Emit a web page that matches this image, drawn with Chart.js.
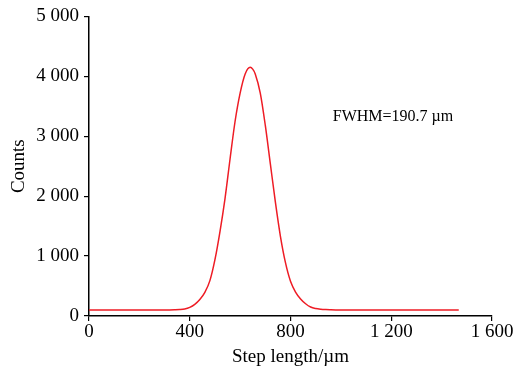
<!DOCTYPE html>
<html>
<head>
<meta charset="utf-8">
<script src="https://cdn.jsdelivr.net/npm/chart.js@4/dist/chart.umd.min.js"></script>
<style>
html,body{margin:0;padding:0;background:#fff;}
#wrap{width:515px;height:368px;position:relative;}
</style>
</head>
<body>
<div id="wrap"><canvas id="c" width="515" height="368"></canvas></div>
<script>
// Step length (µm)
const stepLength = [0, 100, 200, 300, 320, 340, 360, 380, 400, 420, 440, 460, 480, 500, 520, 540, 560, 580, 600, 620, 640, 650, 660, 680, 700, 720, 740, 760, 780, 800, 820, 840, 860, 880, 900, 920, 940, 960, 980, 1000, 1100, 1200, 1300, 1400, 1468];
// Counts
const counts = [100, 100, 100, 101, 102, 104, 108, 118, 145, 195, 275, 395, 590, 940, 1410, 1960, 2620, 3250, 3720, 4040, 4150, 4120, 4040, 3720, 3180, 2540, 1900, 1330, 890, 580, 400, 285, 205, 150, 125, 113, 107, 104, 102, 101, 100, 100, 100, 100, 100];
const xTicks = [0, 400, 800, 1200, 1600];
const yTicks = [0, 1000, 2000, 3000, 4000, 5000];
const annotationText = "FWHM=190.7 µm";

const fmt = v => String(v).replace(/\B(?=(\d{3})+(?!\d))/g, ' ');
const FONT = "'Liberation Serif', 'Times New Roman', serif";

const annot = {
  id: 'annot',
  afterDraw(chart) {
    const {ctx, scales} = chart;
    ctx.save();
    ctx.font = "16px " + FONT;
    ctx.fillStyle = '#000';
    ctx.textAlign = 'left';
    ctx.textBaseline = 'middle';
    ctx.fillText(annotationText, scales.x.getPixelForValue(968), scales.y.getPixelForValue(3317));
    ctx.restore();
  }
};

new Chart(document.getElementById('c'), {
  type: 'line',
  data: {
    datasets: [{
      data: stepLength.map((x, i) => ({x: x, y: counts[i]})),
      borderColor: '#ee1c25',
      borderWidth: 1.5,
      pointRadius: 0,
      cubicInterpolationMode: 'monotone',
      fill: false
    }]
  },
  options: {
    responsive: false,
    animation: false,
    devicePixelRatio: 1,
    layout: {padding: {top: 16, right: 23, left: 0, bottom: 0}},
    plugins: {legend: {display: false}, tooltip: {enabled: false}},
    scales: {
      x: {
        type: 'linear',
        min: 0, max: 1600,
        afterBuildTicks: s => { s.ticks = xTicks.map(v => ({value: v})); },
        afterFit: s => { s.height = 52; },
        grid: {display: true, drawOnChartArea: false, drawTicks: true, tickLength: 5, color: '#000', lineWidth: 1.2},
        border: {display: true, color: '#000', width: 1.5},
        ticks: {color: '#000', font: {family: FONT, size: 19}, padding: 0, maxRotation: 0, callback: v => fmt(v)},
        title: {display: true, text: 'Step length/µm', color: '#000', font: {family: FONT, size: 19}, padding: {top: 0, bottom: 0}}
      },
      y: {
        min: 0, max: 5000,
        afterBuildTicks: s => { s.ticks = yTicks.map(v => ({value: v})); },
        afterFit: s => { s.width = 89; },
        grid: {display: true, drawOnChartArea: false, drawTicks: true, tickLength: 5, color: '#000', lineWidth: 1.2},
        border: {display: true, color: '#000', width: 1.5},
        ticks: {color: '#000', font: {family: FONT, size: 19}, padding: 5, callback: v => fmt(v)},
        title: {display: true, text: 'Counts', color: '#000', font: {family: FONT, size: 19}, padding: {top: 8, bottom: 0}}
      }
    }
  },
  plugins: [annot]
});
</script>
</body>
</html>
